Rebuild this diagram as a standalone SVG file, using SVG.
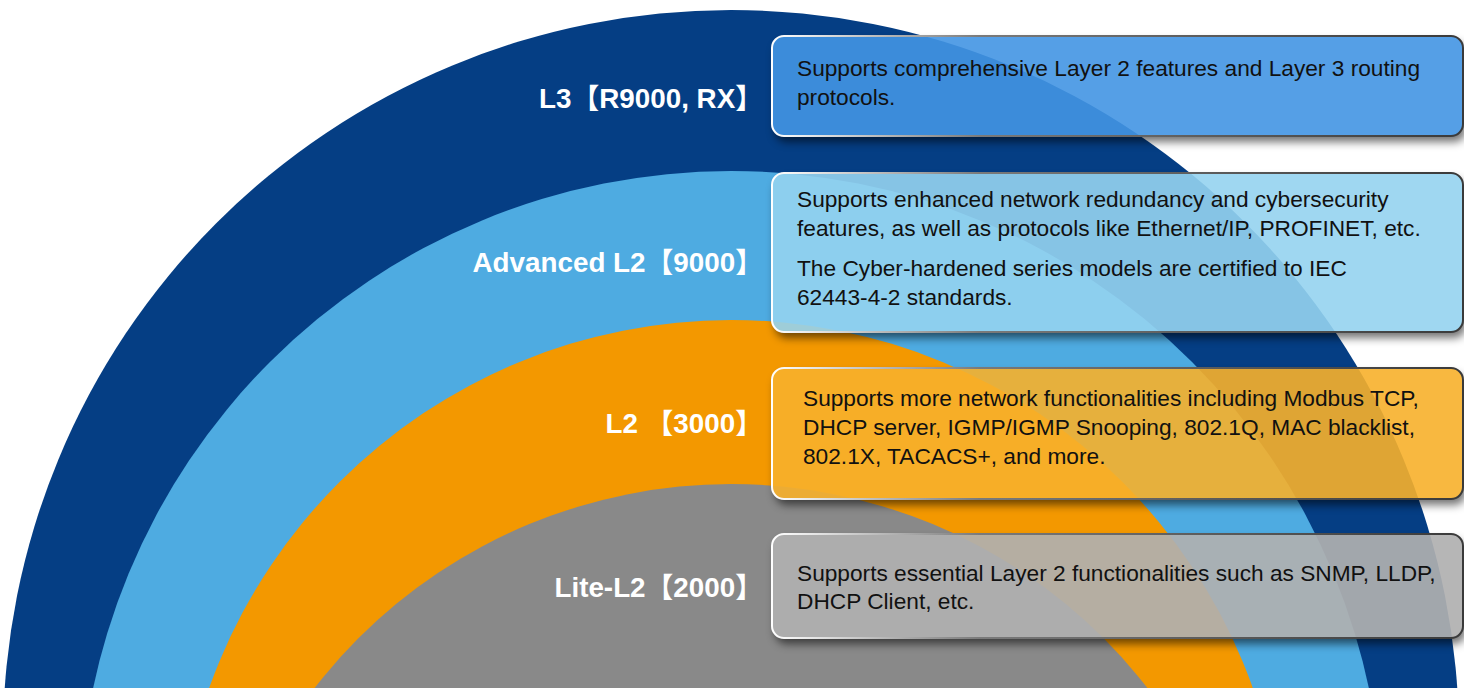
<svg xmlns="http://www.w3.org/2000/svg" width="1464" height="688" viewBox="0 0 1464 688">
  <style>
    .lbl { font-family: "Liberation Sans", "Noto Sans CJK TC", Arial, sans-serif; font-weight: bold; font-size: 27.8px; fill: #ffffff; text-anchor: end; }
    .txt { font-family: "Liberation Sans", Arial, sans-serif; font-size: 22.7px; fill: #111111; }
    .box { stroke: url(#edge); stroke-width: 2; }
    .shadow { fill: #000000; fill-opacity: 0.55; filter: url(#blur); }
  </style>
  <defs>
    <linearGradient id="edge" x1="0" y1="0" x2="1" y2="0">
      <stop offset="0" stop-color="#ffffff"/>
      <stop offset="0.06" stop-color="#e6e6e6"/>
      <stop offset="0.3" stop-color="#7a7a7a"/>
      <stop offset="1" stop-color="#3a3a3a"/>
    </linearGradient>
    <filter id="blur" x="-10%" y="-30%" width="120%" height="160%">
      <feGaussianBlur stdDeviation="4"/>
    </filter>
    <mask id="m1" maskUnits="userSpaceOnUse" x="0" y="0" width="1464" height="688">
      <rect width="1464" height="688" fill="#fff"/>
      <rect x="772" y="36" width="691" height="100" rx="12" fill="#000"/>
    </mask>
    <mask id="m2" maskUnits="userSpaceOnUse" x="0" y="0" width="1464" height="688">
      <rect width="1464" height="688" fill="#fff"/>
      <rect x="772" y="173" width="691" height="159" rx="12" fill="#000"/>
    </mask>
    <mask id="m3" maskUnits="userSpaceOnUse" x="0" y="0" width="1464" height="688">
      <rect width="1464" height="688" fill="#fff"/>
      <rect x="772" y="368" width="691" height="131" rx="12" fill="#000"/>
    </mask>
    <mask id="m4" maskUnits="userSpaceOnUse" x="0" y="0" width="1464" height="688">
      <rect width="1464" height="688" fill="#fff"/>
      <rect x="772" y="534" width="691" height="104" rx="12" fill="#000"/>
    </mask>
  </defs>

  <rect width="1464" height="688" fill="#ffffff"/>

  <g id="rings">
    <circle cx="731" cy="738" r="728" fill="#053e84"/>
    <circle cx="731" cy="823" r="652" fill="#4eabe1"/>
    <circle cx="731" cy="874" r="554" fill="#f39800"/>
    <circle cx="731" cy="1011" r="527" fill="#898989"/>
  </g>

  <g id="tier-l3">
    <text class="lbl" x="763" y="108">L3【R9000, RX】</text>
    <rect class="shadow" x="775" y="42" width="691" height="100" rx="12" mask="url(#m1)"/>
    <rect class="box" x="772" y="36" width="691" height="100" rx="12" fill="#4395e3" fill-opacity="0.9"/>
    <text class="txt" x="797" y="76">Supports comprehensive Layer 2 features and Layer 3 routing</text>
    <text class="txt" x="797" y="105">protocols.</text>
  </g>

  <g id="tier-advanced-l2">
    <text class="lbl" x="763" y="272">Advanced L2【9000】</text>
    <rect class="shadow" x="775" y="179" width="691" height="159" rx="12" mask="url(#m2)"/>
    <rect class="box" x="772" y="173" width="691" height="159" rx="12" fill="#95d3ef" fill-opacity="0.9"/>
    <text class="txt" x="797" y="207">Supports enhanced network redundancy and cybersecurity</text>
    <text class="txt" x="797" y="236">features, as well as protocols like Ethernet/IP, PROFINET, etc.</text>
    <text class="txt" x="797" y="276">The Cyber-hardened series models are certified to IEC</text>
    <text class="txt" x="797" y="305">62443-4-2 standards.</text>
  </g>

  <g id="tier-l2">
    <text class="lbl" x="763" y="433">L2 【3000】</text>
    <rect class="shadow" x="775" y="374" width="691" height="131" rx="12" mask="url(#m3)"/>
    <rect class="box" x="772" y="368" width="691" height="131" rx="12" fill="#f7b02b" fill-opacity="0.9"/>
    <text class="txt" x="803" y="406">Supports more network functionalities including Modbus TCP,</text>
    <text class="txt" x="803" y="435">DHCP server, IGMP/IGMP Snooping, 802.1Q, MAC blacklist,</text>
    <text class="txt" x="803" y="464">802.1X, TACACS+, and more.</text>
  </g>

  <g id="tier-lite-l2">
    <text class="lbl" x="763" y="597">Lite-L2【2000】</text>
    <rect class="shadow" x="775" y="540" width="691" height="104" rx="12" mask="url(#m4)"/>
    <rect class="box" x="772" y="534" width="691" height="104" rx="12" fill="#b0b0b0" fill-opacity="0.92"/>
    <text class="txt" x="797" y="581">Supports essential Layer 2 functionalities such as SNMP, LLDP,</text>
    <text class="txt" x="797" y="609">DHCP Client, etc.</text>
  </g>
</svg>
